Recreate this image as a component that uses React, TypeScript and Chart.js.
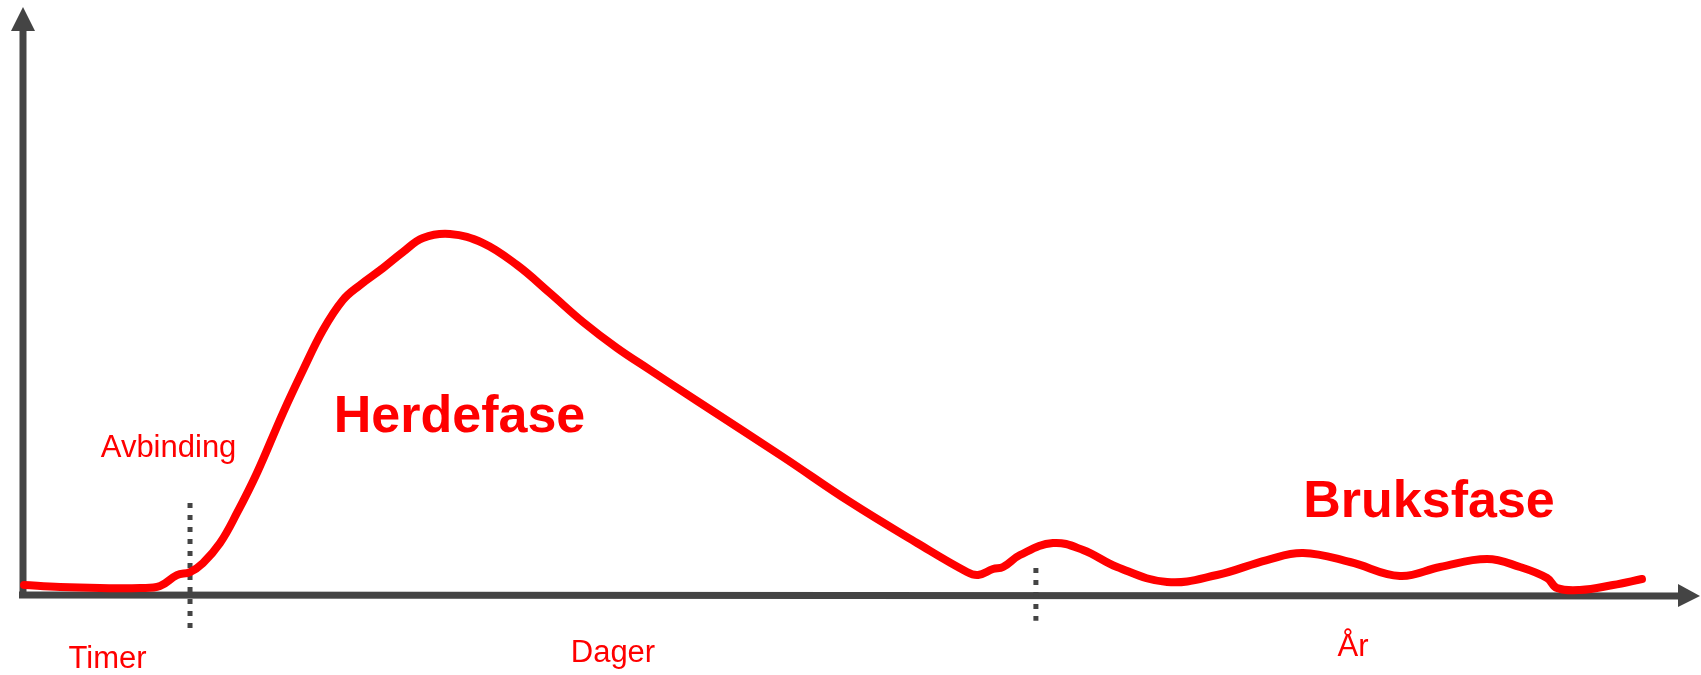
import React, { useEffect, useRef } from "react";
import { Chart, registerables } from "chart.js";

Chart.register(...registerables);

// Conceptual curve: x = time (0..100 units), y = level (0..100 units)
const curveX = [0.06, 2.21, 4.59, 6.98, 8.17, 9.18, 9.96, 10.73, 11.75, 12.76, 13.95, 15.5, 16.7, 17.89, 19.08, 20.1, 21.47, 22.66, 23.85, 25.46, 27.43, 29.46, 31.42, 33.39, 35.42, 37.39, 40.19, 45.32, 49.31, 53.31, 56.29, 56.95, 57.84, 58.44, 59.45, 61.42, 63.21, 65.24, 68.22, 71.2, 74.18, 76.33, 79.13, 82.11, 84.5, 87.3, 89.27, 90.88, 91.47, 92.84, 94.81, 96.54];
const curveY = [1.7, 1.36, 1.19, 1.19, 1.53, 3.4, 3.91, 5.44, 8.84, 13.95, 20.75, 30.95, 38.27, 45.07, 50.17, 52.72, 55.61, 58.33, 60.71, 61.39, 59.86, 56.12, 51.36, 46.43, 42.01, 38.27, 33.0, 23.47, 15.82, 8.84, 3.91, 3.4, 4.42, 4.76, 6.8, 8.84, 7.65, 4.76, 2.21, 3.4, 5.95, 7.14, 5.61, 3.23, 4.76, 6.12, 4.76, 2.89, 1.19, 0.85, 1.7, 2.72];

// Phase boundaries (dotted markers)
const boundaryX = [9.96, 60.4];
const boundaryTop = [15.65, 4.6];
const boundaryBottom = [-5.9, -4.4];

// Text labels
const labelTexts = ["Timer", "Avbinding", "Herdefase", "Dager", "År", "Bruksfase"];
const labelX = [5.04, 8.68, 26.03, 35.18, 79.31, 83.84];
const labelY = [-12.41, 23.47, 27.72, -11.39, -10.37, 13.27];
const labelBold = [false, false, true, false, false, true];

const AXIS_COLOR = "#444444";
const RED = "#ff0000";

const axesPlugin = {
  id: "arrowAxes",
  beforeDatasetsDraw(chart: any) {
    const { ctx, scales } = chart;
    const x0 = scales.x.getPixelForValue(0);
    const y0 = scales.y.getPixelForValue(0);
    const xEnd = scales.x.getPixelForValue(100);
    const yEnd = scales.y.getPixelForValue(100);
    ctx.save();
    ctx.fillStyle = AXIS_COLOR;
    ctx.strokeStyle = AXIS_COLOR;
    ctx.lineWidth = 7;
    ctx.lineCap = "butt";
    // y axis
    ctx.beginPath();
    ctx.moveTo(x0, y0 + 2);
    ctx.lineTo(x0, yEnd + 22);
    ctx.stroke();
    ctx.beginPath();
    ctx.moveTo(x0, yEnd);
    ctx.lineTo(x0 - 12, yEnd + 24);
    ctx.lineTo(x0 + 12, yEnd + 24);
    ctx.closePath();
    ctx.fill();
    // x axis
    ctx.beginPath();
    ctx.moveTo(x0 - 4, y0);
    ctx.lineTo(xEnd - 20, y0 + 1);
    ctx.stroke();
    ctx.beginPath();
    ctx.moveTo(xEnd, y0 + 1);
    ctx.lineTo(xEnd - 22, y0 - 11);
    ctx.lineTo(xEnd - 22, y0 + 12);
    ctx.closePath();
    ctx.fill();
    ctx.restore();
  },
  afterDatasetsDraw(chart: any) {
    const { ctx, scales } = chart;
    ctx.save();
    ctx.fillStyle = RED;
    ctx.textAlign = "center";
    ctx.textBaseline = "alphabetic";
    labelTexts.forEach((t, i) => {
      ctx.font = labelBold[i]
        ? "bold 52px 'Liberation Sans', Arial, sans-serif"
        : "31px 'Liberation Sans', Arial, sans-serif";
      ctx.fillText(t, scales.x.getPixelForValue(labelX[i]), scales.y.getPixelForValue(labelY[i]));
    });
    ctx.restore();
  },
};

export default function App() {
  const ref = useRef<HTMLCanvasElement>(null);
  useEffect(() => {
    document.body.style.margin = "0";
    const canvas = ref.current;
    if (!canvas) return;
    const datasets: any[] = [
      {
        data: curveX.map((x, i) => ({ x, y: curveY[i] })),
        borderColor: RED,
        borderWidth: 8,
        borderCapStyle: "round",
        borderJoinStyle: "round",
        pointRadius: 0,
        tension: 0.4,
        fill: false,
        order: 1,
      },
    ];
    boundaryX.forEach((bx, i) => {
      datasets.push({
        data: [
          { x: bx, y: boundaryTop[i] },
          { x: bx, y: boundaryBottom[i] },
        ],
        borderColor: AXIS_COLOR,
        borderWidth: 5,
        borderDash: [5, 7],
        borderCapStyle: "butt",
        pointRadius: 0,
        tension: 0,
        fill: false,
        order: 2,
      });
    });
    const chart = new Chart(canvas, {
      type: "line",
      data: { datasets },
      options: {
        animation: false,
        responsive: false,
        maintainAspectRatio: false,
        layout: { padding: 0 },
        plugins: { legend: { display: false }, tooltip: { enabled: false } },
        scales: {
          x: { type: "linear", min: -23 / 16.77, max: 1678 / 16.77, display: false },
          y: { type: "linear", min: -80 / 5.88, max: 595 / 5.88, display: false },
        },
      },
      plugins: [axesPlugin],
    });
    return () => chart.destroy();
  }, []);
  return (
    <div style={{ width: 1701, height: 675, background: "#fff" }}>
      <canvas ref={ref} width={1701} height={675} style={{ display: "block" }} />
    </div>
  );
}
